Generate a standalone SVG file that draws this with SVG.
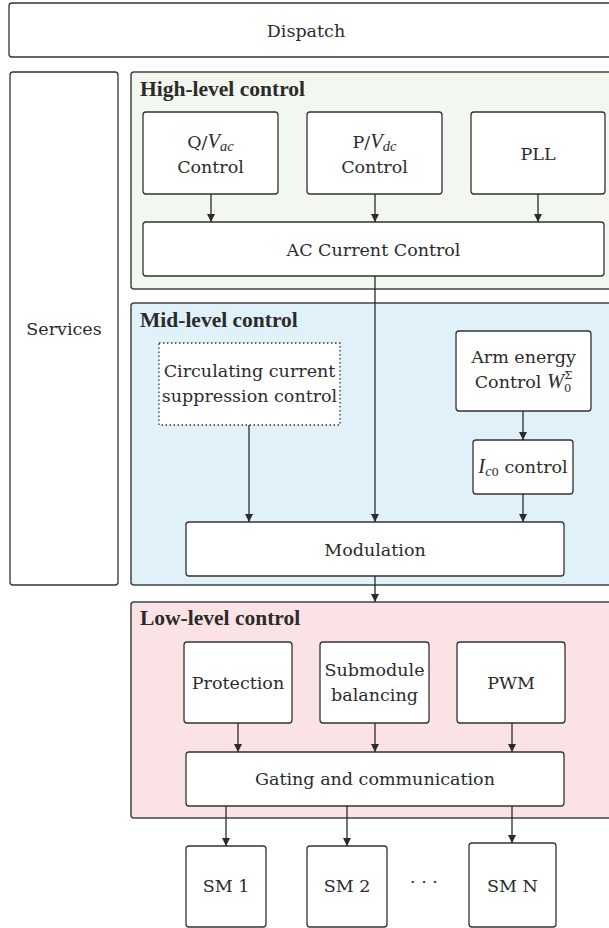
<svg xmlns="http://www.w3.org/2000/svg" width="609" height="928" viewBox="0 0 609 928">
<style>
text{font-family:"DejaVu Serif",serif;font-size:17.5px;fill:#2b2b2b;text-anchor:middle}
.t{font-family:"Liberation Serif","DejaVu Serif",serif;font-weight:bold;font-size:21.5px;text-anchor:start}
.i{font-family:"Liberation Serif","DejaVu Serif",serif;font-style:italic;font-size:20.5px}
.s{font-family:"Liberation Serif","DejaVu Serif",serif;font-size:14.5px;font-style:italic}
.n{font-size:11.5px}
.box{fill:#fff;stroke:#333;stroke-width:1.3}
.dot{fill:#fff;stroke:#333;stroke-width:1.3;stroke-dasharray:1.5 2.5}
.pan{stroke:#444;stroke-width:1.5}
.c{stroke:#2b2b2b;stroke-width:1.3;fill:none;marker-end:url(#a)}
</style>
<defs>
<marker id="a" viewBox="0 0 8 10" refX="8" refY="5" markerWidth="8" markerHeight="10" orient="auto" markerUnits="userSpaceOnUse">
<path d="M0,1 L8,5 L0,9 z" fill="#2b2b2b"/>
</marker>
</defs>
<g id="dispatch"><rect class="box" x="9" y="3" width="620" height="54" rx="3"/><text x="306" y="36.5">Dispatch</text></g>
<g id="services"><rect class="box" x="10" y="72" width="108" height="513" rx="3"/><text x="64" y="335">Services</text></g>
<g id="high-level"><rect class="pan" fill="#f2f7ef" x="131" y="72" width="490" height="217" rx="3"/><text class="t" x="140" y="96">High-level control</text></g>
<g id="mid-level"><rect class="pan" fill="#e0f1f9" x="131" y="303" width="490" height="282" rx="3"/><text class="t" x="140" y="327">Mid-level control</text></g>
<g id="low-level"><rect class="pan" fill="#fbe3e5" x="131" y="602" width="490" height="216" rx="3"/><text class="t" x="140" y="625">Low-level control</text></g>
<g id="qvac"><rect class="box" x="143" y="112" width="135" height="82" rx="3"/><text x="210.5" y="147.5">Q/<tspan class="i">V</tspan><tspan class="s" dy="3.5">ac</tspan></text><text x="210.5" y="172.5">Control</text></g>
<g id="pvdc"><rect class="box" x="307" y="112" width="135" height="82" rx="3"/><text x="374.5" y="147.5">P/<tspan class="i">V</tspan><tspan class="s" dy="3.5">dc</tspan></text><text x="374.5" y="172.5">Control</text></g>
<g id="pll"><rect class="box" x="471" y="112" width="134" height="82" rx="3"/><text x="538" y="159.5">PLL</text></g>
<g id="ac-current"><rect class="box" x="143" y="222" width="461" height="54" rx="3"/><text x="373.5" y="255.5">AC Current Control</text></g>
<g id="circulating"><rect class="dot" x="159" y="343" width="181" height="82"/><text x="249.5" y="377">Circulating current</text><text x="249.5" y="402">suppression control</text></g>
<g id="arm-energy"><rect class="box" x="456" y="331" width="135" height="80" rx="3"/><text x="523.5" y="363">Arm energy</text><text x="523.5" y="388">Control <tspan class="i">W</tspan><tspan class="n" dy="4">0</tspan><tspan class="n" dx="-7.3" dy="-13">Σ</tspan></text></g>
<g id="ic0"><rect class="box" x="473" y="440" width="100" height="54" rx="3"/><text x="523" y="473"><tspan class="i">I</tspan><tspan class="s" dy="3">c</tspan><tspan class="n">0</tspan><tspan dy="-3"> control</tspan></text></g>
<g id="modulation"><rect class="box" x="186" y="522" width="378" height="54" rx="3"/><text x="375" y="555.5">Modulation</text></g>
<g id="protection"><rect class="box" x="184" y="642" width="108" height="81" rx="3"/><text x="238" y="689">Protection</text></g>
<g id="submodule"><rect class="box" x="320" y="642" width="109" height="81" rx="3"/><text x="374.5" y="676">Submodule</text><text x="374.5" y="701">balancing</text></g>
<g id="pwm"><rect class="box" x="457" y="642" width="108" height="81" rx="3"/><text x="511" y="689">PWM</text></g>
<g id="gating"><rect class="box" x="186" y="752" width="378" height="54" rx="3"/><text x="375" y="785">Gating and communication</text></g>
<g id="sm1"><rect class="box" x="186" y="846" width="80" height="81" rx="3"/><text x="226" y="892">SM 1</text></g>
<g id="sm2"><rect class="box" x="307" y="846" width="80" height="81" rx="3"/><text x="347" y="892">SM 2</text></g>
<g id="dots"><text x="424" y="888">· · ·</text></g>
<g id="smn"><rect class="box" x="469" y="843" width="87" height="84" rx="3"/><text x="512.5" y="892">SM N</text></g>
<g id="connectors">
<line class="c" x1="211" y1="194" x2="211" y2="222"/>
<line class="c" x1="375" y1="194" x2="375" y2="222"/>
<line class="c" x1="538" y1="194" x2="538" y2="222"/>
<line class="c" x1="375" y1="276" x2="375" y2="522"/>
<line class="c" x1="249" y1="425" x2="249" y2="522"/>
<line class="c" x1="523" y1="411" x2="523" y2="440"/>
<line class="c" x1="523" y1="494" x2="523" y2="522"/>
<line class="c" x1="375" y1="576" x2="375" y2="602"/>
<line class="c" x1="238" y1="723" x2="238" y2="752"/>
<line class="c" x1="375" y1="723" x2="375" y2="752"/>
<line class="c" x1="512" y1="723" x2="512" y2="752"/>
<line class="c" x1="226" y1="806" x2="226" y2="846"/>
<line class="c" x1="347" y1="806" x2="347" y2="846"/>
<line class="c" x1="512" y1="806" x2="512" y2="843"/>
</g>
</svg>
